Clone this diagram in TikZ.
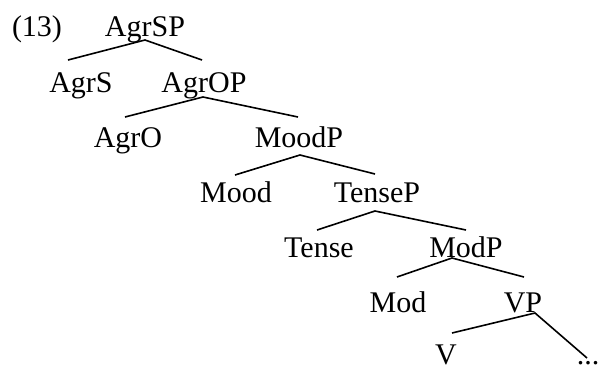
\documentclass[tikz,border=0pt]{standalone}
\usepackage{fontspec}
\setmainfont{Liberation Serif}
\begin{document}
\begin{tikzpicture}[x=1pt,y=-1pt,
  lbl/.style={anchor=base,inner sep=0pt,font=\fontsize{30}{36}\selectfont},
  branch/.style={line width=1.6pt}]
\useasboundingbox (0,0) rectangle (598,365);
% labels
\node[lbl] (n13)    at (37,36)  {(13)};
\node[lbl] (AgrSP)  at (145,36) {AgrSP};
\node[lbl] (AgrS)   at (81,92)  {AgrS};
\node[lbl] (AgrOP)  at (204,92) {AgrOP};
\node[lbl] (AgrO)   at (128,147) {AgrO};
\node[lbl] (MoodP)  at (299,147) {MoodP};
\node[lbl] (Mood)   at (236,202) {Mood};
\node[lbl] (TenseP) at (377,202) {TenseP};
\node[lbl] (Tense)  at (319,257) {Tense};
\node[lbl] (ModP)   at (466,257) {ModP};
\node[lbl] (Mod)    at (398,312) {Mod};
\node[lbl] (VP)     at (523,312) {VP};
\node[lbl] (V)      at (446,364) {V};
\node[lbl] (dots)   at (588,364) {...};
% branch points
\coordinate (aAgrSP)  at (145,40);
\coordinate (aAgrOP)  at (203,97);
\coordinate (aMoodP)  at (300,155);
\coordinate (aTenseP) at (375,211);
\coordinate (aModP)   at (452,258);
\coordinate (aVP)     at (535,313);
% branch ends
\coordinate (eAgrS)   at (68,60);
\coordinate (eAgrOP)  at (202,60);
\coordinate (eAgrO)   at (125,117);
\coordinate (eMoodP)  at (298,117);
\coordinate (eMood)   at (235,175);
\coordinate (eTenseP) at (375,174);
\coordinate (eTense)  at (317,230);
\coordinate (eModP)   at (466,230);
\coordinate (eMod)    at (397,277);
\coordinate (eVP)     at (524,277);
\coordinate (eV)      at (452,333);
\coordinate (edots)   at (587,358);
\draw[branch] (eAgrS) -- (aAgrSP) -- (eAgrOP);
\draw[branch] (eAgrO) -- (aAgrOP) -- (eMoodP);
\draw[branch] (eMood) -- (aMoodP) -- (eTenseP);
\draw[branch] (eTense) -- (aTenseP) -- (eModP);
\draw[branch] (eMod) -- (aModP) -- (eVP);
\draw[branch] (eV) -- (aVP) -- (edots);
\end{tikzpicture}
\end{document}
